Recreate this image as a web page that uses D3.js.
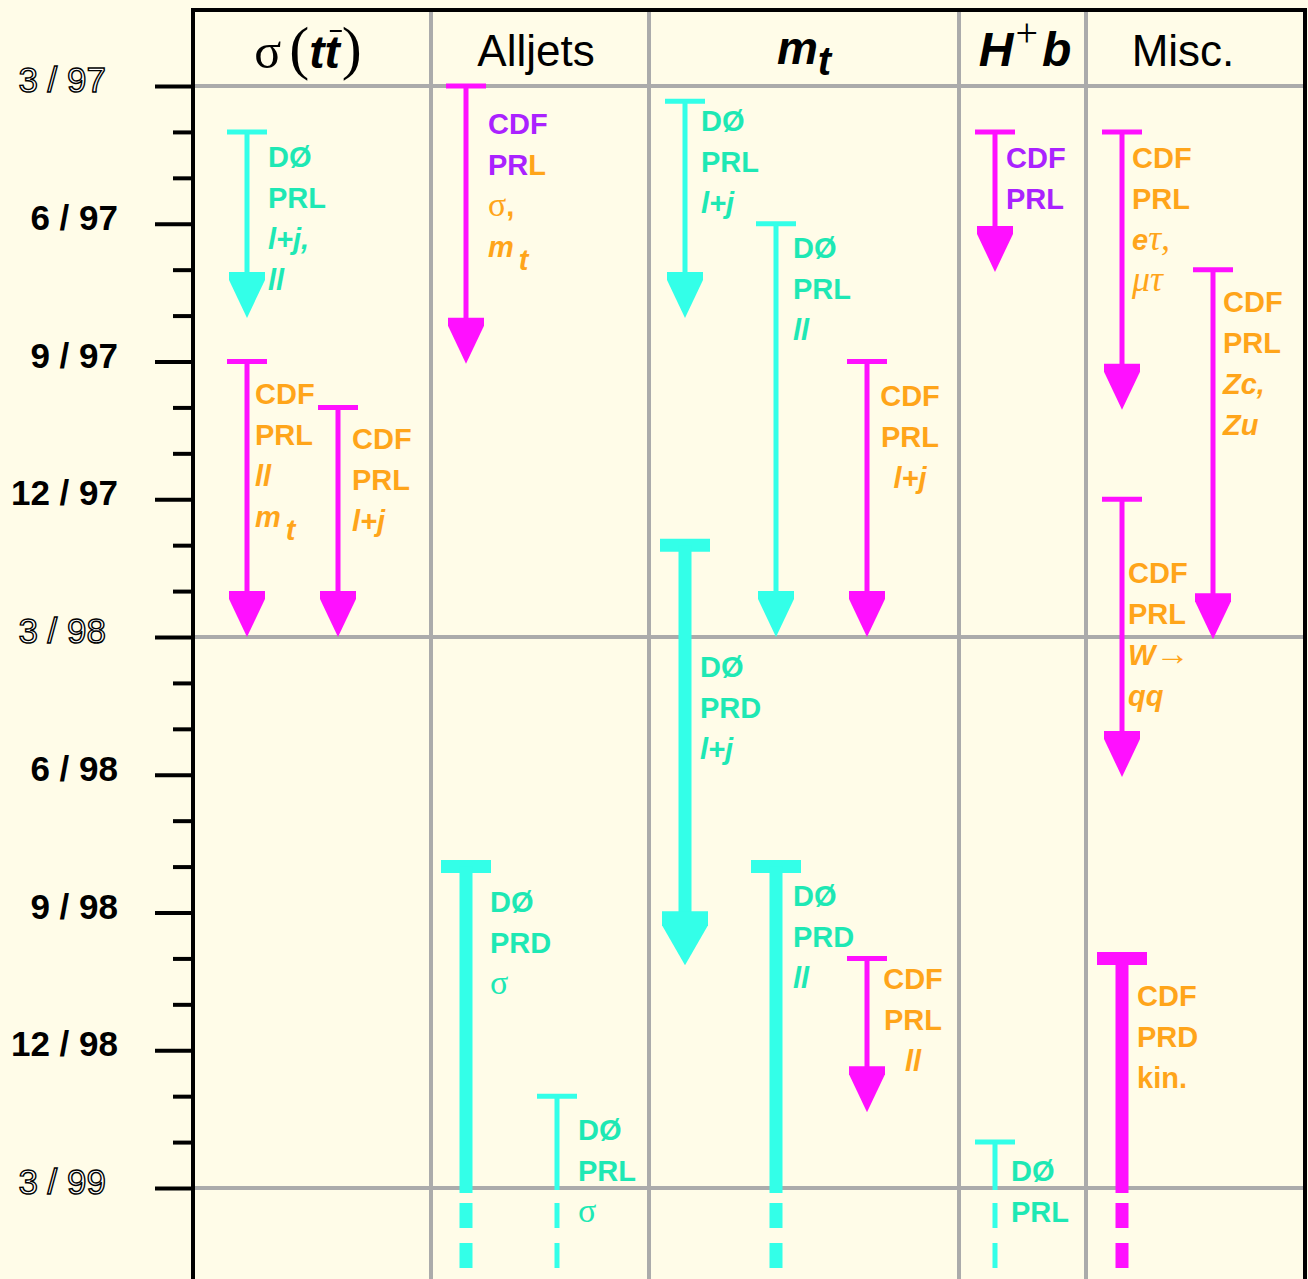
<!DOCTYPE html>
<html><head><meta charset="utf-8">
<script src="https://cdn.jsdelivr.net/npm/d3@7"></script>
<style>
html,body{margin:0;padding:0;background:#fffce8;}
svg{display:block;}
</style>
</head><body>
<svg id="chart" width="1308" height="1279"></svg>
<script>
// ---------------- DATA ----------------
// months counted from March 1997 (0) to March 1999 (24)
const tickMonths = d3.range(0, 25);
const labelMonths = [0, 3, 6, 9, 12, 15, 18, 21, 24];
const monthLabels = ["3 / 97", "6 / 97", "9 / 97", "12 / 97", "3 / 98", "6 / 98", "9 / 98", "12 / 98", "3 / 99"];
const outlinedLabel = [true, false, false, false, true, false, false, false, true];

const columnKeys = ["sigma", "alljets", "mt", "hb", "misc"];

// one entry per publication arrow
const arrowColumn     = [0, 0, 0, 1, 1, 1, 2, 2, 2, 2, 2, 2, 3, 3, 4, 4, 4, 4];
const arrowLane       = [0, 0, 1, 0, 0, 1, 0, 1, 2, 0, 1, 2, 0, 0, 0, 1, 0, 0];
const arrowStart      = [1, 6, 7, 0, 17, 22, 0.33, 3, 6, 10, 17, 19, 1, 23, 1, 4, 9, 19];
const arrowEnd        = [5.05, 12, 12, 6.05, null, null, 5.05, 12, 12, 19.15, null, 22.35, 4.05, null, 7.05, 12.05, 15.05, null]; // null = still open
const arrowExperiment = ["D0", "CDF", "CDF", "CDF", "D0", "D0", "D0", "D0", "CDF", "D0", "D0", "CDF", "CDF", "D0", "CDF", "CDF", "CDF", "CDF"];
const arrowJournal    = ["PRL", "PRL", "PRL", "PRL", "PRD", "PRL", "PRL", "PRL", "PRL", "PRD", "PRD", "PRL", "PRL", "PRL", "PRL", "PRL", "PRL", "PRD"];
// label lines; segments split by "|", optional colour prefix P:/O:/T:, style prefix * bold-italic, ~ serif, % serif italic, _ subscript
const arrowLabels = [
  ["DØ", "PRL", "*l+j,", "*ll"],
  ["CDF", "PRL", "*ll", "*m|_t"],
  ["CDF", "PRL", "*l+j"],
  ["P:CDF", "P:PR|L", "~σ|,", "*m|_t"],
  ["DØ", "PRD", "~σ"],
  ["DØ", "PRL", "~σ"],
  ["DØ", "PRL", "*l+j"],
  ["DØ", "PRL", "*ll"],
  ["CDF", "PRL", "*l+j"],
  ["DØ", "PRD", "*l+j"],
  ["DØ", "PRD", "*ll"],
  ["CDF", "PRL", "*ll"],
  ["P:CDF", "P:PRL"],
  ["DØ", "PRL"],
  ["CDF", "PRL", "*e|%τ,", "%μτ"],
  ["CDF", "PRL", "*Zc,", "*Zu"],
  ["CDF", "PRL", "*W|~→", "*qq"],
  ["CDF", "PRD", "kin."]
];

// ---------------- LAYOUT / STYLE ----------------
const W = 1308, H = 1279;
const colEdges = [193, 431, 649, 959, 1086, 1305];
const laneStart = [54, 35, 36, 36, 36];
const lanePitch = 91;
// label offsets [dx, dy-from-cap, anchor]
const labelLayout = [
  [21, 35, "start"], [8, 42, "start"], [14, 42, "start"], [22, 48, "start"],
  [24, 45, "start"], [21, 44, "start"], [16, 30, "start"], [17, 34, "start"],
  [43, 44, "middle"], [15, 132, "start"], [17, 39, "start"], [46, 31, "middle"],
  [11, 36, "start"], [16, 39, "start"], [10, 36, "start"], [10, 42, "start"],
  [6, 84, "start"], [15, 48, "start"]
];

const COL = {
  cyan: "#33ffe8", magenta: "#ff10ff",
  T: "#1ee8b4", O: "#ffa51a", P: "#aa22ff",
  grid: "#ababab", bg: "#fffce8"
};
const SANS = "'Liberation Sans', Arial, Helvetica, sans-serif";
const SERIF = "'Liberation Serif', 'Times New Roman', serif";

const svg = d3.select("#chart");
svg.append("rect").attr("width", W).attr("height", H).attr("fill", COL.bg);

const y = d3.scaleLinear().domain([0, 24]).range([86, 1188]);
const colStart = d3.scaleOrdinal().domain(columnKeys).range(colEdges.slice(0, 5));
const xLane = (c, l) => colStart(columnKeys[c]) + laneStart[c] + l * lanePitch;

// ---------------- GRID ----------------
const grid = svg.append("g").attr("stroke", COL.grid).attr("stroke-width", 4);
colEdges.slice(1, 5).forEach(x => grid.append("line").attr("x1", x).attr("x2", x).attr("y1", 10).attr("y2", H));
[0, 12, 24].forEach(m => grid.append("line").attr("x1", 193).attr("x2", 1305).attr("y1", y(m)).attr("y2", y(m)));

// ---------------- FRAME ----------------
const frame = svg.append("g").attr("stroke", "#000").attr("stroke-width", 4);
frame.append("line").attr("x1", 191).attr("x2", 1307).attr("y1", 10).attr("y2", 10);
frame.append("line").attr("x1", 193).attr("x2", 193).attr("y1", 8).attr("y2", H);
frame.append("line").attr("x1", 1305).attr("x2", 1305).attr("y1", 8).attr("y2", H);

// ---------------- AXIS ----------------
const axis = d3.axisLeft(y).tickValues(tickMonths).tickSize(20).tickFormat("");
const axG = svg.append("g").attr("transform", "translate(193,0)").call(axis);
axG.select(".domain").remove();
axG.selectAll(".tick line").attr("stroke", "#000").attr("stroke-width", 4)
  .attr("x2", d => (d % 3 === 0 ? -38 : -20));

labelMonths.forEach((m, i) => {
  const t = svg.append("text")
    .attr("x", outlinedLabel[i] ? 106 : 118)
    .attr("y", y(m) + 6)
    .attr("text-anchor", "end")
    .attr("font-family", SANS)
    .attr("font-size", 35)
    .attr("font-weight", "bold")
    .text(monthLabels[i]);
  if (outlinedLabel[i]) {
    t.attr("fill", "#ffffff").attr("stroke", "#000").attr("stroke-width", 1.4)
      .attr("font-weight", "normal").attr("font-size", 35);
  } else {
    t.attr("fill", "#000");
  }
});

// ---------------- HEADERS ----------------
const hy = 66;
// sigma (t tbar)
const h0 = svg.append("text").attr("x", 308).attr("y", hy + 2).attr("text-anchor", "middle").attr("fill", "#000");
h0.append("tspan").attr("font-family", SERIF).attr("font-size", 50).text("σ");
h0.append("tspan").attr("dx", 8).attr("font-family", SERIF).attr("font-size", 60).text("(");
h0.append("tspan").attr("font-family", SANS).attr("font-weight", "bold").attr("font-style", "italic").attr("font-size", 46).text("tt");
h0.append("tspan").attr("dx", 2).attr("font-family", SERIF).attr("font-size", 60).text(")");
try {
  const ext = h0.node().getExtentOfChar(3);
  svg.append("line").attr("stroke", "#000").attr("stroke-width", 2)
    .attr("x1", ext.x + ext.width * 0.35).attr("x2", ext.x + ext.width + 2)
    .attr("y1", ext.y + 5).attr("y2", ext.y + 5);
} catch (e) {}

svg.append("text").attr("x", 536).attr("y", hy).attr("text-anchor", "middle")
  .attr("font-family", SANS).attr("font-size", 44).attr("fill", "#000").text("Alljets");

const h2 = svg.append("text").attr("x", 804).attr("y", hy - 2).attr("text-anchor", "middle")
  .attr("font-family", SANS).attr("font-weight", "bold").attr("font-style", "italic").attr("fill", "#000");
h2.append("tspan").attr("font-size", 46).text("m");
h2.append("tspan").attr("font-size", 40).attr("dy", 11).text("t");

const h3 = svg.append("text").attr("x", 1025).attr("y", hy).attr("text-anchor", "middle").attr("fill", "#000");
h3.append("tspan").attr("font-family", SANS).attr("font-weight", "bold").attr("font-style", "italic").attr("font-size", 48).text("H");
h3.append("tspan").attr("font-family", SERIF).attr("font-size", 40).attr("dy", -20).attr("dx", 2).text("+");
h3.append("tspan").attr("font-family", SANS).attr("font-weight", "bold").attr("font-style", "italic").attr("font-size", 48).attr("dy", 20).attr("dx", 4).text("b");

svg.append("text").attr("x", 1183).attr("y", hy).attr("text-anchor", "middle")
  .attr("font-family", SANS).attr("font-size", 44).attr("fill", "#000").text("Misc.");

// ---------------- ARROWS ----------------
const thinSpec = { lw: 5, capHalf: 20, capT: 5, headW: 36, headH: 46, headR: 8, lineEnd: 1190 };
const thickSpec = { lw: 13, capHalf: 25, capT: 13, headW: 46, headH: 54, headR: 14, lineEnd: 1193 };

const arrowsG = svg.append("g");
const labelsG = svg.append("g");

arrowStart.forEach((s, i) => {
  const spec = arrowJournal[i] === "PRD" ? thickSpec : thinSpec;
  const color = arrowExperiment[i] === "D0" ? COL.cyan : COL.magenta;
  const x = xLane(arrowColumn[i], arrowLane[i]);
  const y0 = y(s);
  const g = arrowsG.append("g").attr("fill", color).attr("stroke", color);
  g.append("line").attr("x1", x - spec.capHalf).attr("x2", x + spec.capHalf)
    .attr("y1", y0).attr("y2", y0).attr("stroke-width", spec.capT);
  if (arrowEnd[i] !== null) {
    const yt = y(arrowEnd[i]);
    g.append("line").attr("x1", x).attr("x2", x).attr("y1", y0).attr("y2", yt - spec.headH + 2)
      .attr("stroke-width", spec.lw);
    const hw = spec.headW / 2;
    g.append("path").attr("stroke", "none")
      .attr("d", `M${x - hw},${yt - spec.headH} L${x + hw},${yt - spec.headH} L${x + hw},${yt - spec.headH + spec.headR} L${x},${yt} L${x - hw},${yt - spec.headH + spec.headR} Z`);
  } else {
    g.append("line").attr("x1", x).attr("x2", x).attr("y1", y0).attr("y2", spec.lineEnd)
      .attr("stroke-width", spec.lw);
    g.append("line").attr("x1", x).attr("x2", x).attr("y1", 1203).attr("y2", 1270)
      .attr("stroke-width", spec.lw).attr("stroke-dasharray", "25,15");
  }

  // labels
  const defColor = arrowExperiment[i] === "D0" ? COL.T : COL.O;
  const [dx, dy, anchor] = labelLayout[i];
  arrowLabels[i].forEach((line, li) => {
    const t = labelsG.append("text")
      .attr("x", x + dx).attr("y", y0 + dy + li * 41)
      .attr("text-anchor", anchor)
      .attr("font-family", SANS).attr("font-size", 29).attr("font-weight", "bold");
    line.split("|").forEach(seg => {
      let c = defColor;
      const m = seg.match(/^([PTO]):(.*)$/);
      if (m) { c = COL[m[1]]; seg = m[2]; }
      const ts = t.append("tspan").attr("fill", c);
      const p = seg[0];
      if (p === "*") {
        ts.attr("font-style", "italic").text(seg.slice(1));
      } else if (p === "_") {
        ts.attr("font-style", "italic").attr("dy", 13).attr("dx", 5).text(seg.slice(1));
      } else if (p === "~") {
        ts.attr("font-family", SERIF).attr("font-weight", "normal").attr("font-size", 34).text(seg.slice(1));
      } else if (p === "%") {
        ts.attr("font-family", SERIF).attr("font-weight", "normal").attr("font-style", "italic").attr("font-size", 36).text(seg.slice(1));
      } else {
        ts.text(seg);
      }
    });
  });
});
</script>
</body></html>
